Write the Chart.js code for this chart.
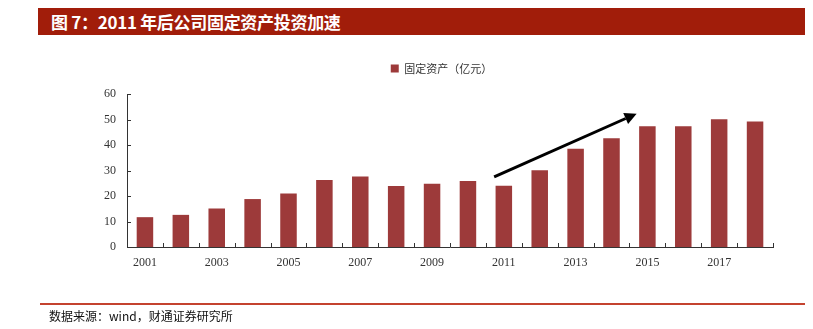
<!DOCTYPE html>
<html>
<head>
<meta charset="utf-8">
<script src="https://cdn.jsdelivr.net/npm/chart.js@4"></script>
<style>
  html, body { margin: 0; padding: 0; background: #fff; }
  #wrap { position: relative; width: 813px; height: 329px; overflow: hidden; }
  #chart { position: absolute; left: 0; top: 0; }
  .title-bar {
    position: absolute; left: 38px; top: 8px; width: 767px; height: 27px;
    background: #a11d0a; color: #fff;
    font: bold 17px "Noto Sans CJK SC", sans-serif; line-height: 27px;
    padding-left: 13px; box-sizing: border-box; letter-spacing: -0.3px;
  }
  .source-line { position: absolute; left: 40px; top: 303px; width: 765px; height: 2px; background: #c4432f; }
  .source {
    position: absolute; left: 49px; top: 308px;
    font: 12px "Noto Sans CJK SC", sans-serif; color: #111; line-height: 16px;
  }
</style>
</head>
<body>
<div id="wrap">
  <canvas id="chart" width="813" height="329"></canvas>
  <div class="title-bar">图 7：2011 年后公司固定资产投资加速</div>
  <div class="source-line"></div>
  <div class="source">数据来源：wind，财通证券研究所</div>
</div>
<script>
const years = ["2001", "2002", "2003", "2004", "2005", "2006", "2007", "2008", "2009",
               "2010", "2011", "2012", "2013", "2014", "2015", "2016", "2017", "2018"];
const fixedAssets = [11.7, 12.6, 15.1, 18.8, 21.0, 26.3, 27.6, 23.9, 24.8,
                     25.9, 24.0, 30.1, 38.5, 42.6, 47.4, 47.4, 50.1, 49.2];
const seriesLabel = "固定资产（亿元）";
const yTicks = [0, 10, 20, 30, 40, 50, 60];

// arrow in data units: [category index, value]
const arrowFrom = [9.73, 27.5];
const arrowTo = [13.7, 52.3];

const barColor = "#9d3a3a";
const axisColor = "#333";

// small ticks drawn inside the plot, like the original
const innerTicks = {
  id: "innerTicks",
  afterDraw(chart) {
    const { ctx, scales: { x, y } } = chart;
    ctx.save();
    ctx.strokeStyle = axisColor;
    ctx.lineWidth = 1;
    ctx.beginPath();
    for (let i = 0; i <= years.length; i++) {
      const px = Math.round(x.getPixelForValue(i - 0.5)) + 0.5;
      ctx.moveTo(px, y.bottom);
      ctx.lineTo(px, y.bottom - 4);
    }
    yTicks.forEach(v => {
      const py = Math.round(y.getPixelForValue(v)) + 0.5;
      ctx.moveTo(x.left, py);
      ctx.lineTo(x.left + 4, py);
    });
    ctx.stroke();
    ctx.restore();
  }
};

const trendArrow = {
  id: "trendArrow",
  afterDatasetsDraw(chart) {
    const { ctx, scales: { x, y } } = chart;
    const x0 = x.getPixelForValue(arrowFrom[0]), y0 = y.getPixelForValue(arrowFrom[1]);
    const x1 = x.getPixelForValue(arrowTo[0]), y1 = y.getPixelForValue(arrowTo[1]);
    const ang = Math.atan2(y1 - y0, x1 - x0);
    const head = 12, wing = 6;
    const bx = x1 - head * Math.cos(ang), by = y1 - head * Math.sin(ang);
    ctx.save();
    ctx.strokeStyle = "#000";
    ctx.fillStyle = "#000";
    ctx.lineWidth = 3;
    ctx.beginPath();
    ctx.moveTo(x0, y0);
    ctx.lineTo(bx, by);
    ctx.stroke();
    ctx.beginPath();
    ctx.moveTo(x1, y1);
    ctx.lineTo(bx + wing * Math.sin(ang), by - wing * Math.cos(ang));
    ctx.lineTo(bx - wing * Math.sin(ang), by + wing * Math.cos(ang));
    ctx.closePath();
    ctx.fill();
    ctx.restore();
  }
};

// nudge the legend a little left and up, leaving more room above the plot
const legendShift = {
  id: "legendShift",
  afterLayout(chart) {
    if (!chart.legend) return;
    chart.legend.left -= 17;
    chart.legend.top -= 10;
  }
};

new Chart(document.getElementById("chart"), {
  type: "bar",
  data: {
    labels: years,
    datasets: [{
      label: seriesLabel,
      data: fixedAssets,
      backgroundColor: barColor,
      barPercentage: 0.46,
      categoryPercentage: 1
    }]
  },
  options: {
    responsive: false,
    animation: false,
    layout: { padding: { top: 40, right: 40, bottom: 0, left: 0 } },
    scales: {
      x: {
        afterFit: s => { s.height = 82; },
        grid: { display: false, drawTicks: false },
        border: { display: true, color: axisColor, width: 1 },
        ticks: {
          autoSkip: false,
          maxRotation: 0,
          padding: 9,
          color: "#333",
          font: { family: "Liberation Serif", size: 12 },
          callback: (v, i) => (i % 2 === 0 ? years[i] : "")
        }
      },
      y: {
        min: 0,
        max: 60,
        afterFit: s => { s.width = 127; },
        grid: { display: false, drawTicks: false },
        border: { display: true, color: axisColor, width: 1 },
        ticks: {
          stepSize: 10,
          padding: 11,
          color: "#333",
          font: { family: "Liberation Serif", size: 12 }
        }
      }
    },
    plugins: {
      legend: {
        display: true,
        fullSize: false,
        labels: {
          boxWidth: 8,
          boxHeight: 8,
          padding: 33,
          color: "#333",
          font: { family: "Noto Sans CJK SC", size: 11 }
        }
      },
      tooltip: { enabled: false }
    }
  },
  plugins: [innerTicks, trendArrow, legendShift]
});
</script>
</body>
</html>
